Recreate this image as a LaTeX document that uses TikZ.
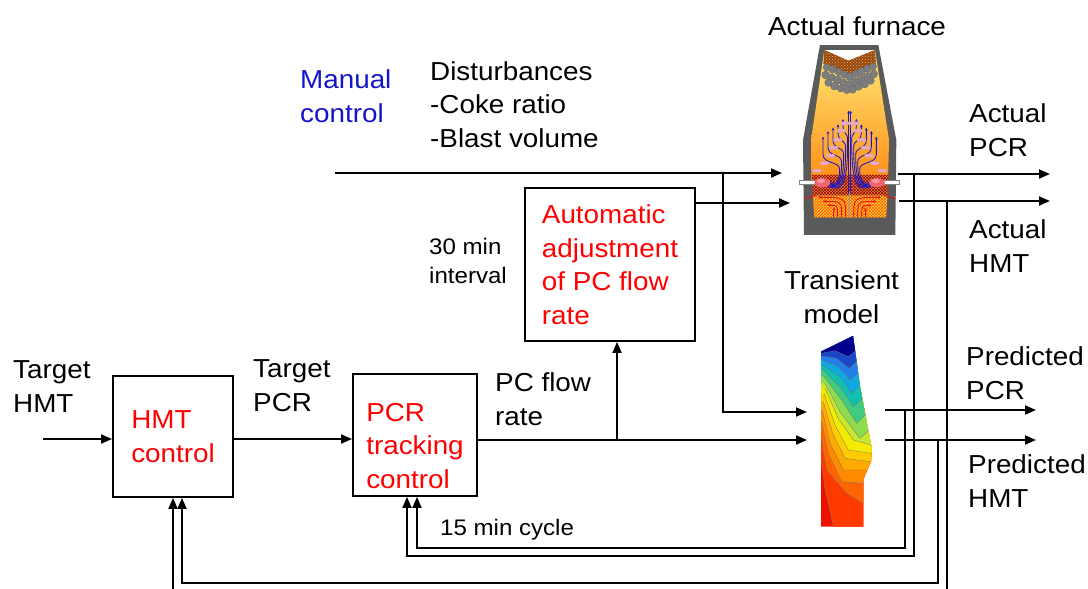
\documentclass[tikz,border=0pt]{standalone}
\usepackage{fontspec}
\setmainfont{Liberation Sans}[FakeStretch=1.07]
\usetikzlibrary{arrows.meta,patterns}
\definecolor{txtred}{RGB}{255,0,0}
\definecolor{txtblue}{RGB}{20,20,200}
\definecolor{shellgray}{RGB}{90,90,90}
\definecolor{furnTop}{RGB}{255,234,120}
\definecolor{furnBot}{RGB}{255,140,20}
\definecolor{burdenbrown}{RGB}{150,70,20}
\definecolor{burdendot}{RGB}{235,180,70}
\definecolor{ballgray}{RGB}{125,125,125}
\definecolor{flowblue}{RGB}{25,25,200}
\definecolor{pinkbar}{RGB}{240,165,205}
\definecolor{racewaypink}{RGB}{240,100,110}
\definecolor{hearthA}{RGB}{235,130,60}
\definecolor{hearthB}{RGB}{250,212,60}
\definecolor{flowred}{RGB}{230,20,20}
\definecolor{cA}{RGB}{238,17,0}
\definecolor{cB}{RGB}{255,58,0}
\definecolor{cC}{RGB}{255,100,0}
\definecolor{cD}{RGB}{255,138,0}
\definecolor{cE}{RGB}{255,170,0}
\definecolor{cF}{RGB}{255,204,0}
\definecolor{cG}{RGB}{244,236,0}
\definecolor{cH}{RGB}{200,232,48}
\definecolor{cI}{RGB}{142,220,80}
\definecolor{cJ}{RGB}{64,204,128}
\definecolor{cK}{RGB}{16,192,176}
\definecolor{cL}{RGB}{16,168,224}
\definecolor{cM}{RGB}{32,128,232}
\definecolor{cN}{RGB}{24,72,200}
\definecolor{cO}{RGB}{0,0,144}
\begin{document}
\begin{tikzpicture}[x=1pt,y=-1pt,
  lbl/.style={font=\fontsize{26}{33.5}\selectfont, inner sep=0pt, align=left, anchor=base west},
  smalllbl/.style={font=\fontsize{22.5}{29}\selectfont, inner sep=0pt, align=left, anchor=base west},
  ctrlbox/.style={draw, line width=1.8pt, inner sep=0pt},
  boxtext/.style={inner sep=0pt, align=left, text=txtred, font=\fontsize{26}{33.5}\selectfont},
  conn/.style={line width=1.8pt},
  arr/.style={conn, -{Triangle[length=11pt,width=9pt]}},
  blueflow/.style={draw=flowblue, line width=0.85pt, -{Stealth[length=3pt,width=2.8pt]}},
  redflow/.style={draw=flowred, line width=0.9pt, -{Stealth[length=3pt,width=2.8pt]}},
  contour/.style={draw=black!55, line width=0.3pt},
]
\useasboundingbox (0,0) rectangle (1088,589);
\clip (0,0) rectangle (1088,589);
\fill[white] (0,0) rectangle (1088,589);

% ---------------- Actual furnace picture ----------------
\begin{scope}[shift={(795pt,-40pt)}, x=0.33333pt, y=-0.33333pt]
  \fill[shellgray] (75,15) -- (250,15) -- (304,300) -- (301,585) -- (27,585) -- (24,300) -- cycle;
  \shade[top color=furnTop, bottom color=furnBot]
     (88,30) -- (160,62) -- (240,30) -- (282,300) -- (279,430) -- (50,430) -- (48,300) -- cycle;
  \fill[white] (88,30) -- (160,62) -- (240,30) -- cycle;
  % hearth
  \fill[hearthA] (50,405) -- (279,405) -- (277,467) -- (54,467) -- cycle;
  \fill[pattern=crosshatch, pattern color=red!55!black] (50,405) -- (279,405) -- (277,467) -- (54,467) -- cycle;
  \fill[hearthB] (54,467) -- (277,467) -- (273,532) -- (58,532) -- cycle;
  \fill[pattern=crosshatch, pattern color=orange!70!red] (54,467) -- (277,467) -- (273,532) -- (58,532) -- cycle;
  \draw[black!40, line width=0.5pt] (164,455) -- (164,532);
  % burden
  \fill[burdenbrown] (88,30) -- (160,62) -- (240,30) -- (243,72) -- (165,102) -- (85,72) -- cycle;
  \fill[pattern=crosshatch dots, pattern color=burdendot] (88,30) -- (160,62) -- (240,30) -- (243,72) -- (165,102) -- (85,72) -- cycle;
  \foreach \bx/\by/\br in {95/82/11,113/88/12,131/96/11,148/104/11,165/110/12,182/102/11,199/94/12,217/86/11,234/80/11,
      92/105/12,110/112/11,128/120/13,146/128/12,164/134/13,182/126/12,200/118/13,218/108/11,236/102/12,
      100/128/11,118/138/12,137/145/11,155/150/11,173/148/12,191/140/11,209/132/12,227/122/11}
    \filldraw[fill=ballgray, draw=black!60, line width=0.3pt] (\bx,\by) circle[radius=\br];
  % blue gas flow (tree-shaped fountain from the raceways)
  \foreach \k/\dx/\ty in {0/20/237, 1/35/253, 2/50/263, 3/65/273, 4/80/290} {
    \draw[blueflow] (100,{440-4*\k}) .. controls ({158-6*\k-20},{452-4*\k}) and ({158-6*\k},{450-4*\k})
       .. ({158-6*\k},{300+22*\k}) .. controls ({158-6*\k},{275+22*\k}) and ({164-\dx},{285+22*\k})
       .. ({164-\dx},{255+22*\k}) -- ({164-\dx},\ty);
    \draw[blueflow] (228,{440-4*\k}) .. controls ({170+6*\k+20},{452-4*\k}) and ({170+6*\k},{450-4*\k})
       .. ({170+6*\k},{300+22*\k}) .. controls ({170+6*\k},{275+22*\k}) and ({164+\dx},{285+22*\k})
       .. ({164+\dx},{255+22*\k}) -- ({164+\dx},\ty);
  }
  \draw[blueflow] (161,458) -- (161,212);
  \draw[blueflow] (167,458) -- (167,212);
  % cohesive zone layers
  \foreach \px/\py in {150/250,178/250, 139/272,189/272, 128/300,200/300, 116/323,212/323, 106/347,222/347, 89/370,239/370, 66/392,262/392}
    \filldraw[fill=pinkbar, draw=black!30, line width=0.3pt, rounded corners=1pt] (\px-13,\py-4.5) rectangle (\px+13,\py+4.5);
  % tuyeres and raceways
  \filldraw[fill=white, draw=black!50, line width=0.5pt] (12,422) rectangle (66,434);
  \filldraw[fill=white, draw=black!50, line width=0.5pt] (262,422) rectangle (312,434);
  \fill[racewaypink] (82,428) ellipse[x radius=24, y radius=14];
  \fill[racewaypink] (246,428) ellipse[x radius=24, y radius=14];
  \fill[white, opacity=0.35] (78,423) ellipse[x radius=12, y radius=6];
  \fill[white, opacity=0.35] (242,423) ellipse[x radius=12, y radius=6];
  % red hearth flow
  \foreach \sx/\ex/\ey in {152/70/472, 140/84/484, 128/98/496, 116/112/508}
    \draw[redflow] (\sx,530) .. controls (\sx,\ey) .. (\ex,\ey);
  \foreach \sx/\ex/\ey in {176/258/472, 188/244/484, 200/230/496, 212/216/508}
    \draw[redflow] (\sx,530) .. controls (\sx,\ey) .. (\ex,\ey);
  \draw[flowred, line width=1pt] (28,476) -- (64,466);
  \draw[flowred, line width=1pt] (302,476) -- (266,466);
\end{scope}

% ---------------- Transient model picture ----------------
\begin{scope}[shift={(810pt,-330pt)}, x=0.33333pt, y=-0.33333pt]
  \begin{scope}
  \clip (33,65) -- (129,18) -- (150,170) -- (185,355) -- (183,395) -- (165,435) -- (160,450) -- (160,590) -- (33,590) -- cycle;
  \fill[cA] (0,0) rectangle (220,620);
  \fill[cB] (-10,390) -- (33,390) -- (45,480) -- (70,590) -- (70,610) -- (210,610) -- (210,-10) -- (-10,-10) -- cycle;
  \fill[cC] (-10,320) -- (33,320) -- (50,420) -- (110,490) -- (165,525) -- (210,525) -- (210,-10) -- (-10,-10) -- cycle;
  \fill[cD] (-10,275) -- (35,275) -- (55,370) -- (95,455) -- (165,460) -- (210,460) -- (210,-10) -- (-10,-10) -- cycle;
  \fill[cE] (-10,240) -- (37,240) -- (60,340) -- (100,420) -- (170,420) -- (210,420) -- (210,-10) -- (-10,-10) -- cycle;
  \fill[cF] (-10,215) -- (40,215) -- (68,310) -- (105,385) -- (180,395) -- (210,395) -- (210,-10) -- (-10,-10) -- cycle;
  \fill[cG] (-10,190) -- (42,190) -- (75,285) -- (115,360) -- (185,370) -- (210,370) -- (210,-10) -- (-10,-10) -- cycle;
  \fill[cH] (-10,175) -- (45,175) -- (85,265) -- (130,330) -- (183,345) -- (210,345) -- (210,-10) -- (-10,-10) -- cycle;
  \fill[cI] (-10,160) -- (45,160) -- (90,245) -- (150,325) -- (178,300) -- (210,300) -- (210,-10) -- (-10,-10) -- cycle;
  \fill[cJ] (-10,140) -- (42,140) -- (95,210) -- (140,280) -- (170,250) -- (210,250) -- (210,-10) -- (-10,-10) -- cycle;
  \fill[cK] (-10,120) -- (40,120) -- (95,175) -- (130,230) -- (163,200) -- (210,200) -- (210,-10) -- (-10,-10) -- cycle;
  \fill[cL] (-10,105) -- (37,105) -- (90,140) -- (125,190) -- (157,160) -- (210,160) -- (210,-10) -- (-10,-10) -- cycle;
  \fill[cM] (-10,90) -- (35,90) -- (85,110) -- (120,150) -- (150,125) -- (210,125) -- (210,-10) -- (-10,-10) -- cycle;
  \fill[cN] (-10,78) -- (33,78) -- (80,85) -- (118,115) -- (145,90) -- (210,90) -- (210,-10) -- (-10,-10) -- cycle;
  \fill[cO] (-10,70) -- (33,70) -- (75,62) -- (115,80) -- (140,60) -- (210,60) -- (210,-10) -- (-10,-10) -- cycle;
  \draw[contour] (33,390) -- (45,480) -- (70,590);
  \draw[contour] (33,320) -- (50,420) -- (110,490) -- (165,525);
  \draw[contour] (35,275) -- (55,370) -- (95,455) -- (165,460);
  \draw[contour] (37,240) -- (60,340) -- (100,420) -- (170,420);
  \draw[contour] (40,215) -- (68,310) -- (105,385) -- (180,395);
  \draw[contour] (42,190) -- (75,285) -- (115,360) -- (185,370);
  \draw[contour] (45,175) -- (85,265) -- (130,330) -- (183,345);
  \draw[contour] (45,160) -- (90,245) -- (150,325) -- (178,300);
  \draw[contour] (42,140) -- (95,210) -- (140,280) -- (170,250);
  \draw[contour] (40,120) -- (95,175) -- (130,230) -- (163,200);
  \draw[contour] (37,105) -- (90,140) -- (125,190) -- (157,160);
  \draw[contour] (35,90) -- (85,110) -- (120,150) -- (150,125);
  \draw[contour] (33,78) -- (80,85) -- (118,115) -- (145,90);
  \draw[contour] (33,70) -- (75,62) -- (115,80) -- (140,60);
  \end{scope}
\end{scope}

% ---------------- Boxes ----------------
\node[ctrlbox, minimum width=120pt, minimum height=121pt] (hmt) at (173,436.5) {};
\node[ctrlbox, minimum width=124pt, minimum height=122pt] (pcr) at (415,435) {};
\node[ctrlbox, minimum width=170pt, minimum height=153pt] (auto) at (610,264.5) {};
\node[boxtext] (hmtT) at (hmt.center) {HMT\\control};
\node[boxtext] (pcrT) at ([yshift=-11pt]pcr.center) {PCR\\tracking\\control};
\node[boxtext] (autoT) at (auto.center) {Automatic\\adjustment\\of PC flow\\rate};

% ---------------- Labels (anchor = baseline of last line) ----------------
\node[lbl, anchor=base] (tFurn) at (857,35) {Actual furnace};
\node[lbl, anchor=base, align=center] (tModel) at (841.5,323) {Transient\\model};
\node[lbl] (tAPCR) at (969,156) {Actual\\PCR};
\node[lbl] (tAHMT) at (969,272) {Actual\\HMT};
\node[lbl] (tPPCR) at (966,399) {Predicted\\PCR};
\node[lbl] (tPHMT) at (968,507) {Predicted\\HMT};
\node[lbl] (tTHMT) at (13,412) {Target\\HMT};
\node[lbl] (tTPCR) at (253,411) {Target\\PCR};
\node[lbl] (tPCF) at (495,425) {PC flow\\rate};
\node[lbl, text=txtblue] (tMan) at (300,122) {Manual\\control};
\node[lbl] (tDist) at (430,147) {Disturbances\\-Coke ratio\\-Blast volume};
\node[smalllbl] (t30) at (429,283) {30 min\\interval};
\node[smalllbl] (t15) at (440,535) {15 min cycle};

% ---------------- Coordinates ----------------
\coordinate (tgtIn) at (43,439);
\coordinate (distStart) at (335,173);
\coordinate (fIn1) at (782,173);
\coordinate (fIn2) at (790,203);
\coordinate (jDist) at (723,173);
\coordinate (tmIn1) at (807,412);
\coordinate (tmIn2) at (807,440);
\coordinate (jPC) at (617,440);
\coordinate (aPCRs) at (898,174);
\coordinate (aPCRe) at (1050,174);
\coordinate (aHMTs) at (899,201);
\coordinate (aHMTe) at (1050,201);
\coordinate (pPCRs) at (885,410);
\coordinate (pPCRe) at (1036,410);
\coordinate (pHMTs) at (885,440);
\coordinate (pHMTe) at (1036,440);
\coordinate (fbA) at (914,174);
\coordinate (fbAc) at (407,556);
\coordinate (fbB) at (905,410);
\coordinate (fbBc) at (417,548);
\coordinate (fbC) at (938,440);
\coordinate (fbCc) at (182,583);
\coordinate (fbD) at (947,201);
\coordinate (fbDc) at (173,600);

% ---------------- Connectors ----------------
\draw[arr] (tgtIn) -- (tgtIn -| hmt.west);
\draw[arr] (hmt.east |- tgtIn) -- (pcr.west |- tgtIn);
\draw[arr] (pcr.east |- tmIn2) -- (tmIn2);
\draw[arr] (jPC) -- (jPC |- auto.south);
\draw[arr] (distStart) -- (fIn1);
\draw[arr] (jDist) |- (tmIn1);
\draw[arr] (auto.east |- fIn2) -- (fIn2);
\draw[arr] (aPCRs) -- (aPCRe);
\draw[arr] (aHMTs) -- (aHMTe);
\draw[arr] (pPCRs) -- (pPCRe);
\draw[arr] (pHMTs) -- (pHMTe);
\draw[arr] (fbA) |- (fbAc) -- (fbAc |- pcr.south);
\draw[arr] (fbB) |- (fbBc) -- (fbBc |- pcr.south);
\draw[arr] (fbC) |- (fbCc) -- (fbCc |- hmt.south);
\draw[arr] (fbD) |- (fbDc) -- (fbDc |- hmt.south);
\end{tikzpicture}
\end{document}
